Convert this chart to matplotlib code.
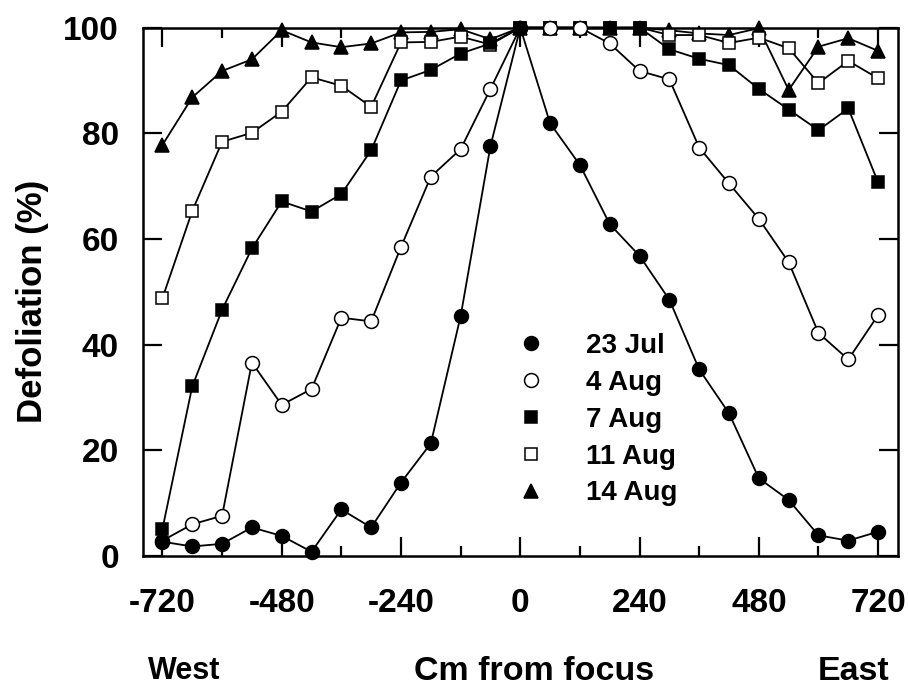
import matplotlib
matplotlib.use("Agg")
import matplotlib.pyplot as plt
from matplotlib.lines import Line2D
from matplotlib.ticker import MultipleLocator

distance = [-720, -660, -600, -540, -480, -420, -360, -300, -240, -180, -120, -60,
            0, 60, 120, 180, 240, 300, 360, 420, 480, 540, 600, 660, 720]

jul23 = [2.7, 1.8, 2.3, 5.4, 3.8, 0.8, 8.8, 5.4, 13.9, 21.3, 45.4, 77.6,
         100, 81.9, 74.0, 62.8, 56.8, 48.5, 35.3, 27.0, 14.7, 10.6, 3.9, 2.9, 4.6]
aug4 = [2.9, 6.0, 7.6, 36.6, 28.6, 31.6, 45.1, 44.4, 58.5, 71.8, 77.0, 88.4,
        100, 100, 100, 97.0, 91.8, 90.2, 77.3, 70.5, 63.8, 55.6, 42.2, 37.2, 45.6]
aug7 = [5.1, 32.1, 46.6, 58.2, 67.1, 65.2, 68.5, 76.8, 90.0, 92.0, 95.1, 97.0,
        100, 100, 100, 100, 100, 95.9, 94.1, 92.9, 88.4, 84.5, 80.6, 84.7, 70.7]
aug11 = [48.8, 65.3, 78.4, 80.1, 84.1, 90.6, 89.0, 85.0, 97.2, 97.3, 98.3, 96.8,
         100, 100, 100, 100, 100, 98.6, 98.6, 97.1, 98.1, 96.1, 89.5, 93.7, 90.4]
aug14 = [77.8, 86.8, 91.8, 94.0, 99.5, 97.2, 96.3, 97.0, 99.1, 99.2, 99.7, 97.8,
         100, 100, 100, 100, 100, 99.5, 98.9, 98.6, 99.9, 88.2, 96.4, 98.0, 95.6]

series_labels = ["23 Jul", "4 Aug", "7 Aug", "11 Aug", "14 Aug"]
x_ticks = [-720, -480, -240, 0, 240, 480, 720]
y_ticks = [0, 20, 40, 60, 80, 100]

FONT = ["Liberation Sans", "DejaVu Sans"]

fig = plt.figure(figsize=(9.08, 6.91), dpi=100)
ax = fig.add_axes([0.157, 0.1954, 0.832, 0.7646])

styles = [
    dict(marker="o", ms=10, mfc="black"),
    dict(marker="o", ms=10, mfc="white"),
    dict(marker="s", ms=8.5, mfc="black"),
    dict(marker="s", ms=8.5, mfc="white"),
    dict(marker="^", ms=10, mfc="black"),
]
data = [jul23, aug4, aug7, aug11, aug14]
for vals, st in zip(data[::-1], styles[::-1]):
    ax.plot(distance, vals, color="black", lw=1.3, mec="black", mew=1.1,
            clip_on=False, zorder=3, **st)

ax.set_xlim(-760, 760)
ax.set_ylim(0, 100)
ax.set_xticks(x_ticks)
ax.set_xticklabels([str(v) for v in x_ticks])
ax.xaxis.set_minor_locator(MultipleLocator(120))
ax.set_yticks(y_ticks)
ax.set_yticklabels([str(v) for v in y_ticks])

for s in ax.spines.values():
    s.set_linewidth(1.8)
ax.tick_params(which="major", direction="in", length=14, width=1.6,
               top=True, right=True)
ax.tick_params(which="minor", direction="in", length=7, width=1.6,
               top=True, right=False, left=False)
ax.tick_params(axis="x", which="major", pad=23)
ax.tick_params(axis="y", which="major", pad=17)

for lab in ax.get_xticklabels() + ax.get_yticklabels():
    lab.set_family(FONT)
    lab.set_fontsize(24)
    lab.set_fontweight("bold")

fig.text(33 / 908, 1 - 301 / 691, "Defoliation (%)", rotation=90, ha="center",
         va="center", family=FONT, fontsize=25, fontweight="bold")
fig.text(184 / 908, 1 - 671 / 691, "West", ha="center", va="center",
         family=FONT, fontsize=22, fontweight="bold")
fig.text(534 / 908, 1 - 671 / 691, "Cm from focus", ha="center", va="center",
         family=FONT, fontsize=24.5, fontweight="bold")
fig.text(854 / 908, 1 - 671 / 691, "East", ha="center", va="center",
         family=FONT, fontsize=24.5, fontweight="bold")

handles = [Line2D([], [], linestyle="none", color="black", mec="black", mew=1.1,
                  **st) for st in styles]
leg = ax.legend(handles, series_labels, loc="upper left",
                bbox_to_anchor=(0.481, 0.443), frameon=False,
                handlelength=1.0, handletextpad=1.48, labelspacing=0.39,
                borderaxespad=0, prop=dict(family=FONT, size=20, weight="bold"))

fig.savefig("out.png", dpi=100)
